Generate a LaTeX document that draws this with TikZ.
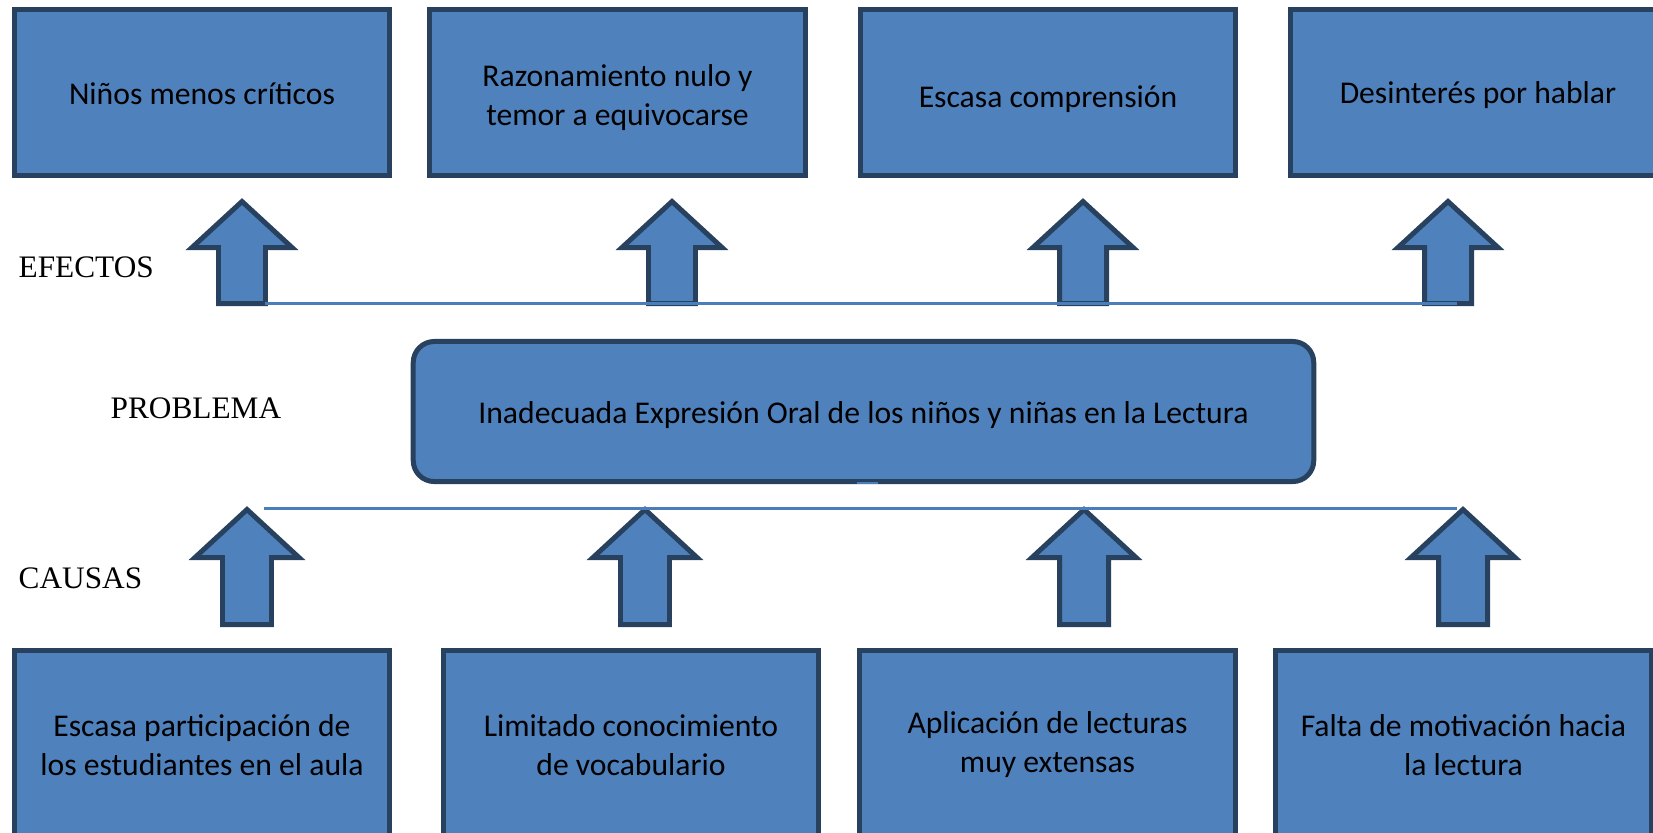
\documentclass[tikz,border=0pt]{standalone}
\usepackage{fontspec}
\setmainfont{Liberation Serif}
\newfontfamily\cajafont{Carlito}
\definecolor{azulcaja}{HTML}{4F81BD}
\definecolor{bordecaja}{HTML}{27415F}
\definecolor{azullinea}{HTML}{4A7EBB}

\tikzset{
  efecto/.style={draw=bordecaja,fill=azulcaja,line width=1.42pt,minimum width=3.75cm,
    minimum height=1.66cm,align=center,inner sep=0pt,
    font=\cajafont\fontsize{9}{11.1}\selectfont},
  causa/.style={efecto,minimum height=1.89cm},
  problema/.style={efecto,rounded corners=0.21cm,minimum width=9cm,minimum height=1.4cm},
  flecha/.style={draw=bordecaja,fill=azulcaja,line width=1.42pt,line join=miter},
  linea/.style={draw=azullinea,line width=0.6pt},
  nivel/.style={anchor=base west,inner sep=0pt,font=\fontsize{8.9}{10}\selectfont}
}

\begin{document}
\begin{tikzpicture}[x=0.01cm,y=-0.01cm]
    \useasboundingbox (0,0) rectangle (1653,832);
    %efectos
    \node[efecto,text height=0.23cm,text depth=0pt] (ef1) at (202,92.5) {Niños menos críticos};
    \node[efecto] (ef2) at (617.5,92.5) {\rule{0pt}{0.32cm}Razonamiento nulo y\\temor a equivocarse};
    \node[efecto,text height=0.29cm,text depth=0pt] (ef3) at (1048,92.5) {Escasa comprensión};
    \node[efecto,text height=0.21cm,text depth=0pt] (ef4) at (1478,92.5) {Desinterés por hablar};
    %flechas de arriba
    \foreach \x in {242,672,1083,1448}
        \draw[flecha] (\x,201.5) -- ++(50,46) -- ++(-26.5,0) -- ++(0,56) -- ++(-47,0)
            -- ++(0,-56) -- ++(-26.5,0) -- cycle;
    \coordinate (la) at (265,303.5);
    \coordinate (lb) at (1457,303.5);
    \draw[linea] (la) -- (lb);
    %problema
    \node[problema,text height=0.23cm,text depth=0pt] (pb) at (863.5,411.5) {Inadecuada Expresión Oral de los niños y niñas en la Lectura};
    \coordinate (ta) at (857,483);
    \coordinate (tb) at (878,483);
    \draw[linea] (ta) -- (tb);
    %flechas de abajo
    \foreach \x in {247,645,1084,1463}
        \draw[flecha] (\x,509.5) -- ++(52,48) -- ++(-27.5,0) -- ++(0,67) -- ++(-49,0)
            -- ++(0,-67) -- ++(-27.5,0) -- cycle;
    \coordinate (lc) at (264,508.5);
    \coordinate (ld) at (1457,508.5);
    \draw[linea] (lc) -- (ld);
    %causas
    \node[causa] (ca1) at (202,745) {Escasa participación de\\los estudiantes en el aula};
    \node[causa] (ca2) at (631,745) {Limitado conocimiento\\de vocabulario};
    \node[causa] (ca3) at (1047.5,745) {Aplicación de lecturas\\muy extensas};
    \node[causa] (ca4) at (1463.5,745) {Falta de motivación hacia\\la lectura};
    %niveles
    \node[nivel] (efectos) at (18,277) {EFECTOS};
    \node[nivel] (nproblema) at (110,418) {PROBLEMA};
    \node[nivel] (causas) at (18,588) {CAUSAS};
\end{tikzpicture}
\end{document}
